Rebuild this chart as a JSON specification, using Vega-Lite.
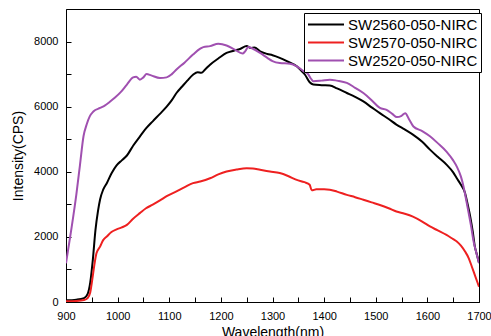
{
  "$schema": "https://vega.github.io/schema/vega-lite/v6.json",
  "width": 413,
  "height": 293,
  "autosize": {"type": "none"},
  "padding": {"left": 66, "top": 9, "right": 12, "bottom": 34},
  "config": {
    "font": "Liberation Sans",
    "view": {"stroke": "black", "strokeWidth": 1},
    "axis": {"grid": false, "domainColor": "black", "tickColor": "black", "labelColor": "black", "titleColor": "black", "titleFontWeight": "normal", "labelFont": "Liberation Sans", "titleFont": "Liberation Sans"}
  },
  "data": {
    "values": [
      {"wl": 900, "v": 50, "s": "SW2560-050-NIRC"},
      {"wl": 920, "v": 70, "s": "SW2560-050-NIRC"},
      {"wl": 935, "v": 120, "s": "SW2560-050-NIRC"},
      {"wl": 942, "v": 250, "s": "SW2560-050-NIRC"},
      {"wl": 947, "v": 600, "s": "SW2560-050-NIRC"},
      {"wl": 952, "v": 1300, "s": "SW2560-050-NIRC"},
      {"wl": 957, "v": 2200, "s": "SW2560-050-NIRC"},
      {"wl": 962, "v": 2800, "s": "SW2560-050-NIRC"},
      {"wl": 966, "v": 3150, "s": "SW2560-050-NIRC"},
      {"wl": 972, "v": 3450, "s": "SW2560-050-NIRC"},
      {"wl": 979, "v": 3650, "s": "SW2560-050-NIRC"},
      {"wl": 988, "v": 3950, "s": "SW2560-050-NIRC"},
      {"wl": 998, "v": 4200, "s": "SW2560-050-NIRC"},
      {"wl": 1008, "v": 4350, "s": "SW2560-050-NIRC"},
      {"wl": 1018, "v": 4500, "s": "SW2560-050-NIRC"},
      {"wl": 1030, "v": 4800, "s": "SW2560-050-NIRC"},
      {"wl": 1043, "v": 5080, "s": "SW2560-050-NIRC"},
      {"wl": 1055, "v": 5330, "s": "SW2560-050-NIRC"},
      {"wl": 1068, "v": 5550, "s": "SW2560-050-NIRC"},
      {"wl": 1082, "v": 5780, "s": "SW2560-050-NIRC"},
      {"wl": 1095, "v": 6000, "s": "SW2560-050-NIRC"},
      {"wl": 1105, "v": 6200, "s": "SW2560-050-NIRC"},
      {"wl": 1114, "v": 6420, "s": "SW2560-050-NIRC"},
      {"wl": 1125, "v": 6620, "s": "SW2560-050-NIRC"},
      {"wl": 1135, "v": 6800, "s": "SW2560-050-NIRC"},
      {"wl": 1146, "v": 6980, "s": "SW2560-050-NIRC"},
      {"wl": 1155, "v": 7060, "s": "SW2560-050-NIRC"},
      {"wl": 1162, "v": 7040, "s": "SW2560-050-NIRC"},
      {"wl": 1170, "v": 7150, "s": "SW2560-050-NIRC"},
      {"wl": 1179, "v": 7290, "s": "SW2560-050-NIRC"},
      {"wl": 1195, "v": 7480, "s": "SW2560-050-NIRC"},
      {"wl": 1211, "v": 7650, "s": "SW2560-050-NIRC"},
      {"wl": 1225, "v": 7720, "s": "SW2560-050-NIRC"},
      {"wl": 1237, "v": 7770, "s": "SW2560-050-NIRC"},
      {"wl": 1250, "v": 7860, "s": "SW2560-050-NIRC"},
      {"wl": 1258, "v": 7800, "s": "SW2560-050-NIRC"},
      {"wl": 1265, "v": 7820, "s": "SW2560-050-NIRC"},
      {"wl": 1276, "v": 7700, "s": "SW2560-050-NIRC"},
      {"wl": 1290, "v": 7620, "s": "SW2560-050-NIRC"},
      {"wl": 1300, "v": 7580, "s": "SW2560-050-NIRC"},
      {"wl": 1314, "v": 7500, "s": "SW2560-050-NIRC"},
      {"wl": 1330, "v": 7380, "s": "SW2560-050-NIRC"},
      {"wl": 1347, "v": 7240, "s": "SW2560-050-NIRC"},
      {"wl": 1356, "v": 7100, "s": "SW2560-050-NIRC"},
      {"wl": 1363, "v": 6980, "s": "SW2560-050-NIRC"},
      {"wl": 1372, "v": 6750, "s": "SW2560-050-NIRC"},
      {"wl": 1379, "v": 6680, "s": "SW2560-050-NIRC"},
      {"wl": 1395, "v": 6660, "s": "SW2560-050-NIRC"},
      {"wl": 1411, "v": 6650, "s": "SW2560-050-NIRC"},
      {"wl": 1425, "v": 6560, "s": "SW2560-050-NIRC"},
      {"wl": 1444, "v": 6420, "s": "SW2560-050-NIRC"},
      {"wl": 1460, "v": 6300, "s": "SW2560-050-NIRC"},
      {"wl": 1476, "v": 6160, "s": "SW2560-050-NIRC"},
      {"wl": 1492, "v": 5980, "s": "SW2560-050-NIRC"},
      {"wl": 1508, "v": 5800, "s": "SW2560-050-NIRC"},
      {"wl": 1525, "v": 5620, "s": "SW2560-050-NIRC"},
      {"wl": 1540, "v": 5450, "s": "SW2560-050-NIRC"},
      {"wl": 1556, "v": 5300, "s": "SW2560-050-NIRC"},
      {"wl": 1572, "v": 5140, "s": "SW2560-050-NIRC"},
      {"wl": 1590, "v": 4920, "s": "SW2560-050-NIRC"},
      {"wl": 1605, "v": 4680, "s": "SW2560-050-NIRC"},
      {"wl": 1620, "v": 4460, "s": "SW2560-050-NIRC"},
      {"wl": 1637, "v": 4220, "s": "SW2560-050-NIRC"},
      {"wl": 1650, "v": 3980, "s": "SW2560-050-NIRC"},
      {"wl": 1657, "v": 3800, "s": "SW2560-050-NIRC"},
      {"wl": 1665, "v": 3600, "s": "SW2560-050-NIRC"},
      {"wl": 1673, "v": 3350, "s": "SW2560-050-NIRC"},
      {"wl": 1678, "v": 3000, "s": "SW2560-050-NIRC"},
      {"wl": 1683, "v": 2620, "s": "SW2560-050-NIRC"},
      {"wl": 1688, "v": 2150, "s": "SW2560-050-NIRC"},
      {"wl": 1692, "v": 1700, "s": "SW2560-050-NIRC"},
      {"wl": 1696, "v": 1450, "s": "SW2560-050-NIRC"},
      {"wl": 1700, "v": 1200, "s": "SW2560-050-NIRC"},

      {"wl": 900, "v": 20, "s": "SW2570-050-NIRC"},
      {"wl": 920, "v": 30, "s": "SW2570-050-NIRC"},
      {"wl": 935, "v": 60, "s": "SW2570-050-NIRC"},
      {"wl": 942, "v": 120, "s": "SW2570-050-NIRC"},
      {"wl": 947, "v": 300, "s": "SW2570-050-NIRC"},
      {"wl": 951, "v": 700, "s": "SW2570-050-NIRC"},
      {"wl": 955, "v": 1150, "s": "SW2570-050-NIRC"},
      {"wl": 959, "v": 1500, "s": "SW2570-050-NIRC"},
      {"wl": 966, "v": 1700, "s": "SW2570-050-NIRC"},
      {"wl": 972, "v": 1900, "s": "SW2570-050-NIRC"},
      {"wl": 979, "v": 2010, "s": "SW2570-050-NIRC"},
      {"wl": 988, "v": 2150, "s": "SW2570-050-NIRC"},
      {"wl": 998, "v": 2230, "s": "SW2570-050-NIRC"},
      {"wl": 1008, "v": 2290, "s": "SW2570-050-NIRC"},
      {"wl": 1018, "v": 2370, "s": "SW2570-050-NIRC"},
      {"wl": 1030, "v": 2560, "s": "SW2570-050-NIRC"},
      {"wl": 1043, "v": 2730, "s": "SW2570-050-NIRC"},
      {"wl": 1055, "v": 2880, "s": "SW2570-050-NIRC"},
      {"wl": 1068, "v": 2990, "s": "SW2570-050-NIRC"},
      {"wl": 1082, "v": 3120, "s": "SW2570-050-NIRC"},
      {"wl": 1095, "v": 3250, "s": "SW2570-050-NIRC"},
      {"wl": 1114, "v": 3400, "s": "SW2570-050-NIRC"},
      {"wl": 1130, "v": 3530, "s": "SW2570-050-NIRC"},
      {"wl": 1146, "v": 3650, "s": "SW2570-050-NIRC"},
      {"wl": 1160, "v": 3700, "s": "SW2570-050-NIRC"},
      {"wl": 1179, "v": 3800, "s": "SW2570-050-NIRC"},
      {"wl": 1195, "v": 3920, "s": "SW2570-050-NIRC"},
      {"wl": 1211, "v": 4010, "s": "SW2570-050-NIRC"},
      {"wl": 1230, "v": 4070, "s": "SW2570-050-NIRC"},
      {"wl": 1250, "v": 4110, "s": "SW2570-050-NIRC"},
      {"wl": 1262, "v": 4100, "s": "SW2570-050-NIRC"},
      {"wl": 1276, "v": 4060, "s": "SW2570-050-NIRC"},
      {"wl": 1295, "v": 4010, "s": "SW2570-050-NIRC"},
      {"wl": 1314, "v": 3960, "s": "SW2570-050-NIRC"},
      {"wl": 1330, "v": 3870, "s": "SW2570-050-NIRC"},
      {"wl": 1347, "v": 3750, "s": "SW2570-050-NIRC"},
      {"wl": 1362, "v": 3680, "s": "SW2570-050-NIRC"},
      {"wl": 1372, "v": 3600, "s": "SW2570-050-NIRC"},
      {"wl": 1376, "v": 3430, "s": "SW2570-050-NIRC"},
      {"wl": 1385, "v": 3460, "s": "SW2570-050-NIRC"},
      {"wl": 1400, "v": 3460, "s": "SW2570-050-NIRC"},
      {"wl": 1411, "v": 3450, "s": "SW2570-050-NIRC"},
      {"wl": 1425, "v": 3390, "s": "SW2570-050-NIRC"},
      {"wl": 1444, "v": 3290, "s": "SW2570-050-NIRC"},
      {"wl": 1460, "v": 3220, "s": "SW2570-050-NIRC"},
      {"wl": 1476, "v": 3140, "s": "SW2570-050-NIRC"},
      {"wl": 1492, "v": 3060, "s": "SW2570-050-NIRC"},
      {"wl": 1508, "v": 2980, "s": "SW2570-050-NIRC"},
      {"wl": 1525, "v": 2880, "s": "SW2570-050-NIRC"},
      {"wl": 1540, "v": 2780, "s": "SW2570-050-NIRC"},
      {"wl": 1556, "v": 2710, "s": "SW2570-050-NIRC"},
      {"wl": 1572, "v": 2620, "s": "SW2570-050-NIRC"},
      {"wl": 1590, "v": 2470, "s": "SW2570-050-NIRC"},
      {"wl": 1605, "v": 2320, "s": "SW2570-050-NIRC"},
      {"wl": 1620, "v": 2200, "s": "SW2570-050-NIRC"},
      {"wl": 1637, "v": 2060, "s": "SW2570-050-NIRC"},
      {"wl": 1650, "v": 1930, "s": "SW2570-050-NIRC"},
      {"wl": 1657, "v": 1860, "s": "SW2570-050-NIRC"},
      {"wl": 1665, "v": 1730, "s": "SW2570-050-NIRC"},
      {"wl": 1673, "v": 1550, "s": "SW2570-050-NIRC"},
      {"wl": 1680, "v": 1350, "s": "SW2570-050-NIRC"},
      {"wl": 1686, "v": 1090, "s": "SW2570-050-NIRC"},
      {"wl": 1693, "v": 780, "s": "SW2570-050-NIRC"},
      {"wl": 1700, "v": 470, "s": "SW2570-050-NIRC"},

      {"wl": 900, "v": 1190, "s": "SW2520-050-NIRC"},
      {"wl": 910, "v": 2200, "s": "SW2520-050-NIRC"},
      {"wl": 920, "v": 3300, "s": "SW2520-050-NIRC"},
      {"wl": 927, "v": 4200, "s": "SW2520-050-NIRC"},
      {"wl": 934, "v": 5100, "s": "SW2520-050-NIRC"},
      {"wl": 940, "v": 5450, "s": "SW2520-050-NIRC"},
      {"wl": 946, "v": 5700, "s": "SW2520-050-NIRC"},
      {"wl": 953, "v": 5850, "s": "SW2520-050-NIRC"},
      {"wl": 966, "v": 5960, "s": "SW2520-050-NIRC"},
      {"wl": 975, "v": 6030, "s": "SW2520-050-NIRC"},
      {"wl": 985, "v": 6150, "s": "SW2520-050-NIRC"},
      {"wl": 995, "v": 6280, "s": "SW2520-050-NIRC"},
      {"wl": 1005, "v": 6430, "s": "SW2520-050-NIRC"},
      {"wl": 1018, "v": 6680, "s": "SW2520-050-NIRC"},
      {"wl": 1030, "v": 6900, "s": "SW2520-050-NIRC"},
      {"wl": 1036, "v": 6920, "s": "SW2520-050-NIRC"},
      {"wl": 1043, "v": 6830, "s": "SW2520-050-NIRC"},
      {"wl": 1050, "v": 6900, "s": "SW2520-050-NIRC"},
      {"wl": 1056, "v": 7000, "s": "SW2520-050-NIRC"},
      {"wl": 1065, "v": 6960, "s": "SW2520-050-NIRC"},
      {"wl": 1082, "v": 6880, "s": "SW2520-050-NIRC"},
      {"wl": 1095, "v": 6900, "s": "SW2520-050-NIRC"},
      {"wl": 1105, "v": 7000, "s": "SW2520-050-NIRC"},
      {"wl": 1114, "v": 7140, "s": "SW2520-050-NIRC"},
      {"wl": 1130, "v": 7360, "s": "SW2520-050-NIRC"},
      {"wl": 1146, "v": 7600, "s": "SW2520-050-NIRC"},
      {"wl": 1160, "v": 7780, "s": "SW2520-050-NIRC"},
      {"wl": 1166, "v": 7830, "s": "SW2520-050-NIRC"},
      {"wl": 1179, "v": 7860, "s": "SW2520-050-NIRC"},
      {"wl": 1195, "v": 7930, "s": "SW2520-050-NIRC"},
      {"wl": 1211, "v": 7880, "s": "SW2520-050-NIRC"},
      {"wl": 1227, "v": 7750, "s": "SW2520-050-NIRC"},
      {"wl": 1242, "v": 7630, "s": "SW2520-050-NIRC"},
      {"wl": 1247, "v": 7700, "s": "SW2520-050-NIRC"},
      {"wl": 1253, "v": 7830, "s": "SW2520-050-NIRC"},
      {"wl": 1262, "v": 7780, "s": "SW2520-050-NIRC"},
      {"wl": 1276, "v": 7650, "s": "SW2520-050-NIRC"},
      {"wl": 1290, "v": 7500, "s": "SW2520-050-NIRC"},
      {"wl": 1300, "v": 7400, "s": "SW2520-050-NIRC"},
      {"wl": 1314, "v": 7340, "s": "SW2520-050-NIRC"},
      {"wl": 1334, "v": 7320, "s": "SW2520-050-NIRC"},
      {"wl": 1347, "v": 7240, "s": "SW2520-050-NIRC"},
      {"wl": 1360, "v": 7090, "s": "SW2520-050-NIRC"},
      {"wl": 1369, "v": 7000, "s": "SW2520-050-NIRC"},
      {"wl": 1375, "v": 6850, "s": "SW2520-050-NIRC"},
      {"wl": 1379, "v": 6780, "s": "SW2520-050-NIRC"},
      {"wl": 1395, "v": 6800, "s": "SW2520-050-NIRC"},
      {"wl": 1411, "v": 6830, "s": "SW2520-050-NIRC"},
      {"wl": 1425, "v": 6800, "s": "SW2520-050-NIRC"},
      {"wl": 1444, "v": 6730, "s": "SW2520-050-NIRC"},
      {"wl": 1460, "v": 6580, "s": "SW2520-050-NIRC"},
      {"wl": 1476, "v": 6420, "s": "SW2520-050-NIRC"},
      {"wl": 1492, "v": 6200, "s": "SW2520-050-NIRC"},
      {"wl": 1508, "v": 5960, "s": "SW2520-050-NIRC"},
      {"wl": 1521, "v": 5900, "s": "SW2520-050-NIRC"},
      {"wl": 1532, "v": 5780, "s": "SW2520-050-NIRC"},
      {"wl": 1541, "v": 5680, "s": "SW2520-050-NIRC"},
      {"wl": 1550, "v": 5720, "s": "SW2520-050-NIRC"},
      {"wl": 1557, "v": 5800, "s": "SW2520-050-NIRC"},
      {"wl": 1565, "v": 5600, "s": "SW2520-050-NIRC"},
      {"wl": 1573, "v": 5390, "s": "SW2520-050-NIRC"},
      {"wl": 1590, "v": 5250, "s": "SW2520-050-NIRC"},
      {"wl": 1605, "v": 5090, "s": "SW2520-050-NIRC"},
      {"wl": 1620, "v": 4880, "s": "SW2520-050-NIRC"},
      {"wl": 1637, "v": 4620, "s": "SW2520-050-NIRC"},
      {"wl": 1650, "v": 4350, "s": "SW2520-050-NIRC"},
      {"wl": 1657, "v": 4160, "s": "SW2520-050-NIRC"},
      {"wl": 1665, "v": 3850, "s": "SW2520-050-NIRC"},
      {"wl": 1670, "v": 3550, "s": "SW2520-050-NIRC"},
      {"wl": 1675, "v": 3150, "s": "SW2520-050-NIRC"},
      {"wl": 1680, "v": 2730, "s": "SW2520-050-NIRC"},
      {"wl": 1685, "v": 2300, "s": "SW2520-050-NIRC"},
      {"wl": 1689, "v": 1900, "s": "SW2520-050-NIRC"},
      {"wl": 1695, "v": 1500, "s": "SW2520-050-NIRC"},
      {"wl": 1700, "v": 1200, "s": "SW2520-050-NIRC"}
    ]
  },
  "mark": {"type": "line", "strokeWidth": 2, "interpolate": "monotone", "clip": true},
  "encoding": {
    "x": {
      "field": "wl", "type": "quantitative",
      "scale": {"domain": [900, 1700], "nice": false, "zero": false},
      "axis": {
        "title": "Wavelength(nm)", "titleFontSize": 14, "titlePadding": 4,
        "values": [900, 950, 1000, 1050, 1100, 1150, 1200, 1250, 1300, 1350, 1400, 1450, 1500, 1550, 1600, 1650, 1700],
        "labelExpr": "datum.value % 100 == 0 ? datum.label : ''",
        "format": "d", "labelFontSize": 11, "tickSize": -5, "labelPadding": 13, "labelFlush": false, "labelOverlap": false
      }
    },
    "y": {
      "field": "v", "type": "quantitative",
      "scale": {"domain": [0, 9000], "nice": false},
      "axis": {
        "title": "Intensity(CPS)", "titleFontSize": 14, "titlePadding": 8,
        "values": [0, 1000, 2000, 3000, 4000, 5000, 6000, 7000, 8000],
        "labelExpr": "datum.value % 2000 == 0 ? datum.label : ''",
        "format": "d", "labelFontSize": 11, "tickSize": -5, "labelPadding": 13, "labelOverlap": false
      }
    },
    "color": {
      "field": "s", "type": "nominal", "sort": null,
      "scale": {"domain": ["SW2560-050-NIRC", "SW2570-050-NIRC", "SW2520-050-NIRC"], "range": ["#000000", "#ee2020", "#a050b0"]},
      "legend": {
        "title": null, "orient": "none", "legendX": 238, "legendY": 4,
        "strokeColor": "black", "fillColor": "white", "padding": 3,
        "symbolType": "stroke", "symbolStrokeWidth": 2, "symbolSize": 1296,
        "clipHeight": 17,
        "labelFontSize": 15, "labelFont": "Liberation Sans", "labelColor": "black", "labelOffset": 3, "rowPadding": 1, "labelLimit": 300
      }
    }
  }
}
